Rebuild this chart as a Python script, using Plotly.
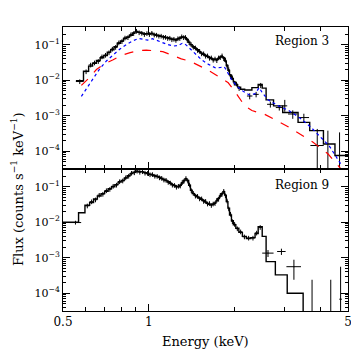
import plotly.graph_objects as go
from plotly.subplots import make_subplots

# ---- Region 3 : folded model (step histogram), bin edges in keV
r3_edges = [0.555, 0.59, 0.615, 0.635, 0.655, 0.675, 0.695, 0.715, 0.735, 0.755, 0.775, 0.795, 0.815, 0.835,
            0.855, 0.875, 0.895, 0.915, 0.935, 0.955, 0.975, 0.995, 1.015, 1.035, 1.055, 1.075, 1.095, 1.115,
            1.135, 1.155, 1.175, 1.195, 1.215, 1.235, 1.255, 1.275, 1.295, 1.315, 1.335, 1.355, 1.375, 1.395,
            1.42, 1.445, 1.47, 1.495, 1.52, 1.545, 1.57, 1.595, 1.62, 1.645, 1.67, 1.695, 1.72, 1.745, 1.77,
            1.795, 1.82, 1.845, 1.87, 1.895, 1.92, 1.95, 1.98, 2.01, 2.05, 2.1, 2.17, 2.3, 2.42, 2.5, 2.58,
            2.74, 2.95, 3.34, 3.67, 4.1, 4.5, 5.0]
r3_model = [0.0097, 0.018, 0.025, 0.030, 0.036, 0.043, 0.050, 0.062, 0.072, 0.088, 0.110, 0.128, 0.150, 0.165,
            0.185, 0.215, 0.235, 0.225, 0.215, 0.200, 0.205, 0.200, 0.208, 0.195, 0.185, 0.180, 0.172, 0.168,
            0.160, 0.158, 0.150, 0.145, 0.140, 0.138, 0.145, 0.155, 0.162, 0.165, 0.158, 0.140, 0.118, 0.100,
            0.088, 0.080, 0.072, 0.064, 0.058, 0.054, 0.050, 0.047, 0.044, 0.041, 0.039, 0.038, 0.039, 0.041,
            0.045, 0.046, 0.043, 0.035, 0.026, 0.019, 0.014, 0.011, 0.0090, 0.0075, 0.0064, 0.0056, 0.0053,
            0.0062, 0.0076, 0.0060, 0.0028, 0.0019, 0.00123, 0.00065, 0.00038, 0.00016, 0.000076]
# data in the first 67 bins
r3_data = [0.0092, 0.0175, 0.027, 0.031, 0.034, 0.046, 0.051, 0.060, 0.076, 0.085, 0.114, 0.124, 0.156, 0.160,
           0.192, 0.208, 0.242, 0.220, 0.212, 0.196, 0.208, 0.196, 0.212, 0.190, 0.188, 0.176, 0.176, 0.164,
           0.163, 0.152, 0.154, 0.140, 0.144, 0.134, 0.149, 0.151, 0.169, 0.160, 0.162, 0.134, 0.116, 0.102,
           0.086, 0.082, 0.070, 0.066, 0.056, 0.056, 0.048, 0.049, 0.042, 0.043, 0.037, 0.040, 0.036, 0.043,
           0.044, 0.049, 0.041, 0.037, 0.025, 0.020, 0.013, 0.0118, 0.0084, 0.0079, 0.0059]
# high-energy (grouped) data points
r3_pt_e = [2.26, 2.38, 2.47, 2.67, 2.87, 3.0, 3.2, 3.5, 3.9, 4.25, 4.67]
r3_pt_f = [0.0036, 0.0040, 0.0072, 0.0021, 0.0017, 0.0019, 0.00112, 0.00089, 0.000145, 0.00002, 0.00002]
r3_pt_de = [0.05, 0.05, 0.03, 0.07, 0.08, 0.06, 0.12, 0.15, 0.21, 0.0, 0.0]
r3_pt_up = [0.0007, 0.0007, 0.0012, 0.0004, 0.0003, 0.0009, 0.0003, 0.00025, 0.00028, 0.00036, 0.00032]
r3_pt_dn = [0.0007, 0.0007, 0.0012, 0.0004, 0.0003, 0.0006, 0.0003, 0.00025, 0.00014, 0.000015, 0.000015]

# model components
blue_e = [0.58, 0.61, 0.64, 0.67, 0.71, 0.75, 0.79, 0.84, 0.88, 0.92, 0.96, 0.99, 1.03, 1.08, 1.15, 1.22, 1.27,
          1.31, 1.34, 1.39, 1.45, 1.53, 1.62, 1.72, 1.79, 1.84, 1.88, 1.95, 2.05, 2.15, 2.26, 2.36, 2.44, 2.5,
          2.62, 2.85, 3.1, 3.4, 3.7, 4.0, 4.3, 4.6, 4.75]
blue_f = [0.0035, 0.0065, 0.012, 0.02, 0.035, 0.052, 0.075, 0.105, 0.13, 0.15, 0.145, 0.135, 0.148, 0.125,
          0.105, 0.092, 0.095, 0.11, 0.105, 0.08, 0.058, 0.038, 0.028, 0.022, 0.023, 0.024, 0.018, 0.0105,
          0.0065, 0.0048, 0.0038, 0.0042, 0.0062, 0.0045, 0.0028, 0.0019, 0.0014, 0.00085, 0.00048, 0.00025,
          0.00014, 0.00006, 0.00004]
red_e = [0.58, 0.62, 0.655, 0.70, 0.75, 0.80, 0.86, 0.92, 0.98, 1.05, 1.12, 1.2, 1.3, 1.4, 1.5, 1.6, 1.75, 1.9,
         2.0, 2.06, 2.17, 2.3, 2.55, 3.07, 3.6, 3.77, 4.25, 4.61, 4.75]
red_f = [0.0072, 0.012, 0.020, 0.029, 0.038, 0.050, 0.060, 0.068, 0.071, 0.069, 0.064, 0.052, 0.040, 0.034,
         0.026, 0.020, 0.013, 0.0085, 0.005, 0.0036, 0.0019, 0.0014, 0.0011, 0.0005, 0.00022, 0.00018,
         0.000085, 0.00004, 0.00003]

# ---- Region 9
r9_edges = [0.5, 0.567, 0.597, 0.62, 0.64, 0.66, 0.68, 0.70, 0.72, 0.74, 0.76, 0.78, 0.80, 0.82, 0.84, 0.86,
            0.88, 0.90, 0.92, 0.94, 0.96, 0.98, 1.00, 1.02, 1.04, 1.06, 1.08, 1.10, 1.12, 1.14, 1.16, 1.18,
            1.20, 1.22, 1.24, 1.26, 1.28, 1.30, 1.32, 1.34, 1.36, 1.38, 1.40, 1.42, 1.445, 1.47, 1.495, 1.52,
            1.545, 1.57, 1.595, 1.62, 1.645, 1.67, 1.695, 1.72, 1.745, 1.77, 1.795, 1.82, 1.845, 1.87, 1.895,
            1.92, 1.95, 1.98, 2.02, 2.07, 2.13, 2.2, 2.28, 2.36, 2.42, 2.5, 2.58, 2.78, 3.06, 3.48, 5.0]
r9_model = [0.0100, 0.0185, 0.030, 0.036, 0.045, 0.055, 0.064, 0.075, 0.088, 0.100, 0.115, 0.135, 0.150,
            0.175, 0.205, 0.235, 0.255, 0.270, 0.265, 0.262, 0.250, 0.235, 0.225, 0.215, 0.205, 0.195, 0.185,
            0.170, 0.160, 0.150, 0.138, 0.125, 0.115, 0.108, 0.102, 0.100, 0.110, 0.128, 0.150, 0.168, 0.150,
            0.110, 0.080, 0.064, 0.057, 0.052, 0.048, 0.044, 0.041, 0.037, 0.034, 0.032, 0.031, 0.032, 0.035,
            0.040, 0.047, 0.055, 0.064, 0.072, 0.058, 0.038, 0.025, 0.016, 0.011, 0.0085, 0.0068, 0.0052,
            0.0040, 0.0035, 0.0037, 0.0048, 0.0075, 0.0040, 0.00078, 0.00033, 0.0001, 0.000001]
# data in bins 3..73
r9_data = [0.029, 0.038, 0.043, 0.058, 0.062, 0.078, 0.085, 0.104, 0.112, 0.140, 0.147, 0.180, 0.200, 0.242,
           0.250, 0.278, 0.258, 0.268, 0.244, 0.240, 0.220, 0.222, 0.200, 0.198, 0.180, 0.174, 0.156, 0.153,
           0.134, 0.128, 0.112, 0.110, 0.098, 0.104, 0.106, 0.132, 0.146, 0.172, 0.146, 0.113, 0.078, 0.066,
           0.055, 0.054, 0.046, 0.046, 0.039, 0.039, 0.033, 0.034, 0.030, 0.033, 0.034, 0.042, 0.045, 0.058,
           0.062, 0.075, 0.056, 0.040, 0.024, 0.017, 0.0105, 0.0088, 0.0066, 0.0054, 0.0039, 0.0036, 0.0036,
           0.0050, 0.0072]
r9_pt_e = [0.553, 2.62, 2.92, 3.23, 3.74, 4.35, 4.71]
r9_pt_f = [0.0098, 0.00135, 0.0015, 0.00056, 0.00002, 0.00002, 0.000068]
r9_pt_de = [0.026, 0.12, 0.10, 0.19, 0.0, 0.0, 0.05]
r9_pt_up = [0.0012, 0.0003, 0.0003, 0.00032, 0.00022, 0.00022, 0.00049]
r9_pt_dn = [0.0012, 0.0003, 0.0003, 0.00032, 0.000015, 0.000015, 0.00005]

fig = make_subplots(rows=2, cols=1, shared_xaxes=True, vertical_spacing=0)


def add_panel(row, edges, model, data, first_bin, pe, pf, pde, pup, pdn):
    fig.add_trace(go.Scatter(x=edges, y=model + [model[-1]], mode='lines', line_shape='hv',
                             line=dict(color='black', width=1.4)), row=row, col=1)
    lo = edges[first_bin:first_bin + len(data)]
    hi = edges[first_bin + 1:first_bin + len(data) + 1]
    xc = [(a + b) / 2 for a, b in zip(lo, hi)]
    hw = [(b - a) / 2 for a, b in zip(lo, hi)]
    fig.add_trace(go.Scatter(x=xc, y=data, mode='markers', marker=dict(size=1, color='black'),
                             error_x=dict(type='data', array=hw, width=0, thickness=1, color='black'),
                             error_y=dict(type='percent', value=15, width=0, thickness=1, color='black')),
                  row=row, col=1)
    fig.add_trace(go.Scatter(x=pe, y=pf, mode='markers', marker=dict(size=1, color='black'),
                             error_x=dict(type='data', array=pde, width=0, thickness=1, color='black'),
                             error_y=dict(type='data', array=pup, arrayminus=pdn, width=0, thickness=1,
                                          color='black')),
                  row=row, col=1)


add_panel(1, r3_edges, r3_model, r3_data, 0, r3_pt_e, r3_pt_f, r3_pt_de, r3_pt_up, r3_pt_dn)
fig.add_trace(go.Scatter(x=blue_e, y=blue_f, mode='lines', line=dict(color='blue', width=1.2, dash='dot')),
              row=1, col=1)
fig.add_trace(go.Scatter(x=red_e, y=red_f, mode='lines', line=dict(color='red', width=1.2, dash='dash')),
              row=1, col=1)
add_panel(2, r9_edges, r9_model, r9_data, 2, r9_pt_e, r9_pt_f, r9_pt_de, r9_pt_up, r9_pt_dn)

font = 'DejaVu Serif'
ytv = [1e-4, 1e-3, 1e-2, 1e-1]
ytt = ['10<sup>−4</sup>', '10<sup>−3</sup>', '10<sup>−2</sup>', '10<sup>−1</sup>']
ymin = [k * 10 ** d for d in range(-5, 0) for k in range(2, 10)]

for r in (1, 2):
    fig.update_yaxes(type='log', range=[-4.5, -0.5], tickmode='array', tickvals=ytv, ticktext=ytt,
                     ticks='inside', ticklen=7, tickcolor='black', showline=True, linecolor='black',
                     linewidth=1, mirror='allticks', showgrid=False, zeroline=False,
                     tickfont=dict(family=font, size=11, color='black'),
                     minor=dict(ticks='inside', ticklen=3, tickcolor='black', tickmode='array',
                                tickvals=ymin, showgrid=False),
                     row=r, col=1)
    fig.update_xaxes(type='log', range=[-0.30103, 0.69897], tickmode='array', tickvals=[0.5, 1, 5],
                     ticktext=['0.5', '1', '5'], ticks='inside', ticklen=7, tickcolor='black',
                     showline=True, linecolor='black', linewidth=1, mirror='allticks', showgrid=False,
                     zeroline=False, tickfont=dict(family=font, size=12, color='black'),
                     minor=dict(ticks='inside', ticklen=4, tickcolor='black', tickmode='array',
                                tickvals=[0.6, 0.7, 0.8, 0.9, 2, 3, 4], showgrid=False),
                     row=r, col=1)

fig.update_layout(
    width=359, height=359, margin=dict(l=55, r=19, t=19, b=56),
    plot_bgcolor='white', paper_bgcolor='white', showlegend=False,
    annotations=[
        dict(text='Region 3', xref='paper', yref='paper', x=0.94, y=0.951, xanchor='right', yanchor='middle',
             showarrow=False, font=dict(family=font, size=12, color='black')),
        dict(text='Region 9', xref='paper', yref='paper', x=0.94, y=0.444, xanchor='right', yanchor='middle',
             showarrow=False, font=dict(family=font, size=12, color='black')),
        dict(text='Energy (keV)', xref='paper', yref='paper', x=0.5, y=-0.106, xanchor='center',
             yanchor='middle', showarrow=False, font=dict(family=font, size=13, color='black')),
        dict(text='Flux (counts s<sup>−1</sup> keV<sup>−1</sup>)', xref='paper', yref='paper', x=-0.161,
             y=0.43, xanchor='center', yanchor='middle', textangle=-90, showarrow=False,
             font=dict(family=font, size=13, color='black')),
    ],
)

fig.write_html('out.html')
